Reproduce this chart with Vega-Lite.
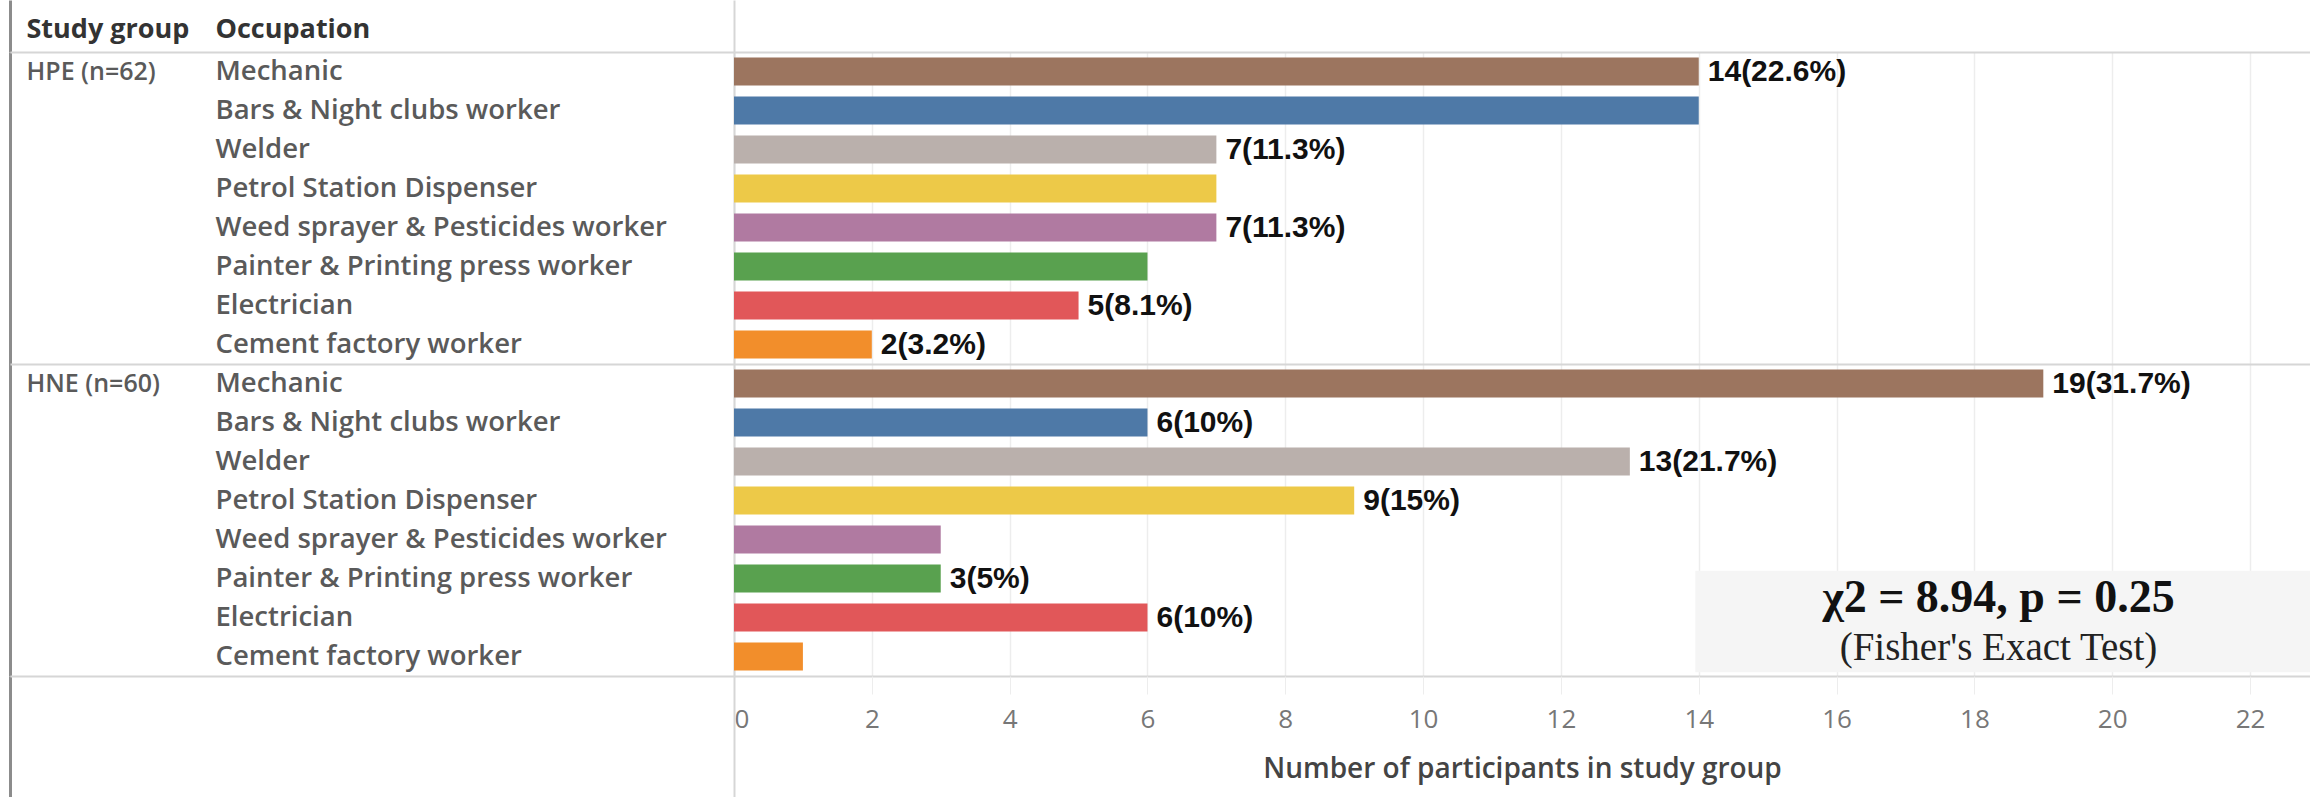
{
  "$schema": "https://vega.github.io/schema/vega-lite/v6.json",
  "width": 1576,
  "height": 624,
  "autosize": {"type": "none"},
  "padding": {"left": 734, "top": 52, "right": 0, "bottom": 121},
  "background": "white",
  "config": {"view": {"stroke": null}, "font": "Open Sans"},
  "data": {"values": [
    {"group": "HPE (n=62)", "occupation": "Mechanic", "key": "HPE (n=62)|Mechanic", "count": 14, "label": "14(22.6%)"},
    {"group": "HPE (n=62)", "occupation": "Bars & Night clubs worker", "key": "HPE (n=62)|Bars & Night clubs worker", "count": 14, "label": ""},
    {"group": "HPE (n=62)", "occupation": "Welder", "key": "HPE (n=62)|Welder", "count": 7, "label": "7(11.3%)"},
    {"group": "HPE (n=62)", "occupation": "Petrol Station Dispenser", "key": "HPE (n=62)|Petrol Station Dispenser", "count": 7, "label": ""},
    {"group": "HPE (n=62)", "occupation": "Weed sprayer & Pesticides worker", "key": "HPE (n=62)|Weed sprayer & Pesticides worker", "count": 7, "label": "7(11.3%)"},
    {"group": "HPE (n=62)", "occupation": "Painter & Printing press worker", "key": "HPE (n=62)|Painter & Printing press worker", "count": 6, "label": ""},
    {"group": "HPE (n=62)", "occupation": "Electrician", "key": "HPE (n=62)|Electrician", "count": 5, "label": "5(8.1%)"},
    {"group": "HPE (n=62)", "occupation": "Cement factory worker", "key": "HPE (n=62)|Cement factory worker", "count": 2, "label": "2(3.2%)"},
    {"group": "HNE (n=60)", "occupation": "Mechanic", "key": "HNE (n=60)|Mechanic", "count": 19, "label": "19(31.7%)"},
    {"group": "HNE (n=60)", "occupation": "Bars & Night clubs worker", "key": "HNE (n=60)|Bars & Night clubs worker", "count": 6, "label": "6(10%)"},
    {"group": "HNE (n=60)", "occupation": "Welder", "key": "HNE (n=60)|Welder", "count": 13, "label": "13(21.7%)"},
    {"group": "HNE (n=60)", "occupation": "Petrol Station Dispenser", "key": "HNE (n=60)|Petrol Station Dispenser", "count": 9, "label": "9(15%)"},
    {"group": "HNE (n=60)", "occupation": "Weed sprayer & Pesticides worker", "key": "HNE (n=60)|Weed sprayer & Pesticides worker", "count": 3, "label": ""},
    {"group": "HNE (n=60)", "occupation": "Painter & Printing press worker", "key": "HNE (n=60)|Painter & Printing press worker", "count": 3, "label": "3(5%)"},
    {"group": "HNE (n=60)", "occupation": "Electrician", "key": "HNE (n=60)|Electrician", "count": 6, "label": "6(10%)"},
    {"group": "HNE (n=60)", "occupation": "Cement factory worker", "key": "HNE (n=60)|Cement factory worker", "count": 1, "label": ""}
  ]},
  "resolve": {"axis": {"x": "independent", "y": "independent"}},
  "layer": [
    {
      "mark": {"type": "bar", "height": {"band": 0.72}},
      "encoding": {
        "y": {
          "field": "key", "type": "nominal",
          "scale": {"paddingInner": 0, "paddingOuter": 0, "domain": [
            "HPE (n=62)|Mechanic", "HPE (n=62)|Bars & Night clubs worker", "HPE (n=62)|Welder", "HPE (n=62)|Petrol Station Dispenser", "HPE (n=62)|Weed sprayer & Pesticides worker", "HPE (n=62)|Painter & Printing press worker", "HPE (n=62)|Electrician", "HPE (n=62)|Cement factory worker",
            "HNE (n=60)|Mechanic", "HNE (n=60)|Bars & Night clubs worker", "HNE (n=60)|Welder", "HNE (n=60)|Petrol Station Dispenser", "HNE (n=60)|Weed sprayer & Pesticides worker", "HNE (n=60)|Painter & Printing press worker", "HNE (n=60)|Electrician", "HNE (n=60)|Cement factory worker"]},
          "axis": {
            "orient": "left", "title": "Occupation", "titleAngle": 0, "titleAlign": "left", "titleBaseline": "middle",
            "titleX": -519, "titleY": -23, "titleFont": "Open Sans", "titleFontSize": 27, "titleFontWeight": 700, "titleColor": "#333333",
            "labelExpr": "split(datum.value, '|')[1]", "labelAlign": "left", "labelBaseline": "middle", "labelPadding": 519,
            "labelFont": "Open Sans", "labelFontSize": 27.5, "labelFontWeight": 600, "labelColor": "#5a5a5a", "labelLimit": 600,
            "ticks": false, "domain": true, "domainColor": "#d6d6d6", "domainWidth": 2, "grid": false
          }
        },
        "x": {
          "field": "count", "type": "quantitative",
          "scale": {"domain": [0, 22.87], "nice": false, "zero": true},
          "axis": {
            "orient": "bottom", "values": [0, 2, 4, 6, 8, 10, 12, 14, 16, 18, 20, 22],
            "grid": true, "gridColor": "#ededed", "gridWidth": 1.5,
            "ticks": true, "tickSize": 18, "tickColor": "#ededed", "domain": false,
            "labelFlush": true, "labelFont": "Open Sans", "labelFontSize": 26, "labelColor": "#777777", "labelPadding": 12,
            "title": "Number of participants in study group", "titleFont": "Open Sans", "titleFontSize": 28, "titleFontWeight": 600,
            "titleColor": "#444444", "titleY": 93, "titleBaseline": "middle"
          }
        },
        "color": {
          "field": "occupation", "type": "nominal", "legend": null,
          "scale": {
            "domain": ["Mechanic", "Bars & Night clubs worker", "Welder", "Petrol Station Dispenser", "Weed sprayer & Pesticides worker", "Painter & Printing press worker", "Electrician", "Cement factory worker"],
            "range": ["#9c755f", "#4e79a7", "#bab0ac", "#edc948", "#b07aa1", "#59a14f", "#e15759", "#f28e2b"]
          }
        }
      }
    },
    {
      "mark": {"type": "text", "align": "left", "baseline": "middle", "dx": 9, "font": "Liberation Sans", "fontWeight": "bold", "fontSize": 30, "color": "#111111"},
      "encoding": {
        "y": {
          "field": "key", "type": "nominal",
          "axis": {
            "orient": "left", "offset": 724, "title": "Study group", "titleAngle": 0, "titleAlign": "left", "titleBaseline": "middle",
            "titleX": 16, "titleY": -23, "titleFont": "Open Sans", "titleFontSize": 27, "titleFontWeight": 700, "titleColor": "#333333",
            "labelExpr": "split(datum.value, '|')[1] == 'Mechanic' ? split(datum.value, '|')[0] : ''",
            "labelAlign": "left", "labelBaseline": "middle", "labelPadding": -16,
            "labelFont": "Open Sans", "labelFontSize": 25, "labelFontWeight": 600, "labelColor": "#5a5a5a", "labelLimit": 400,
            "ticks": false, "domain": true, "domainColor": "#8c8c8c", "domainWidth": 3, "grid": false
          }
        },
        "x": {
          "field": "count", "type": "quantitative",
          "axis": {
            "orient": "top", "values": [0], "tickSize": 52, "labels": false, "domain": false, "grid": false, "title": null,
            "tickColor": "#d6d6d6", "tickWidth": 2
          }
        },
        "text": {"field": "label"}
      }
    },
    {
      "data": {"values": [{}]},
      "mark": {"type": "bar", "color": "#f5f5f5", "height": {"band": 2.6}, "yOffset": 4},
      "encoding": {
        "y": {
          "datum": "HNE (n=60)|Electrician", "type": "nominal",
          "axis": {
            "orient": "left", "values": ["HPE (n=62)|Mechanic", "HNE (n=60)|Mechanic"], "bandPosition": 0,
            "labels": false, "domain": false, "ticks": true, "tickSize": 724, "tickColor": "#d6d6d6", "tickWidth": 2,
            "grid": true, "gridColor": "#d6d6d6", "gridWidth": 2, "title": null
          }
        },
        "x": {
          "datum": 13.95, "type": "quantitative",
          "axis": {
            "orient": "bottom", "values": [0], "tickSize": 121, "labels": false, "domain": false, "grid": false, "title": null,
            "tickColor": "#d6d6d6", "tickWidth": 2
          }
        },
        "x2": {"datum": 22.87}
      }
    },
    {
      "data": {"values": [{}]},
      "mark": {"type": "text", "align": "center", "baseline": "middle", "dy": -20, "font": "Liberation Serif", "fontWeight": "bold", "fontSize": 46, "color": "#111111"},
      "encoding": {
        "y": {
          "datum": "HNE (n=60)|Electrician", "type": "nominal",
          "axis": {
            "orient": "left", "values": ["HNE (n=60)|Cement factory worker"], "bandPosition": 1,
            "labels": false, "domain": false, "ticks": true, "tickSize": 724, "tickColor": "#d6d6d6", "tickWidth": 2,
            "grid": true, "gridColor": "#d6d6d6", "gridWidth": 2, "title": null
          }
        },
        "x": {
          "datum": 18.35, "type": "quantitative",
          "axis": {
            "orient": "top", "values": [0], "tickOffset": -724, "tickSize": 52, "labels": false, "domain": false, "grid": false, "title": null,
            "tickColor": "#8c8c8c", "tickWidth": 3
          }
        },
        "text": {"value": "χ2 = 8.94, p = 0.25"}
      }
    },
    {
      "data": {"values": [{}]},
      "mark": {"type": "text", "align": "center", "baseline": "middle", "dy": 30, "font": "Liberation Serif", "fontSize": 39, "color": "#222222"},
      "encoding": {
        "y": {"datum": "HNE (n=60)|Electrician", "type": "nominal", "axis": null},
        "x": {
          "datum": 18.35, "type": "quantitative",
          "axis": {
            "orient": "bottom", "values": [0], "tickOffset": -724, "tickSize": 121, "labels": false, "domain": false, "grid": false, "title": null,
            "tickColor": "#8c8c8c", "tickWidth": 3
          }
        },
        "text": {"value": "(Fisher's Exact Test)"}
      }
    }
  ]
}
